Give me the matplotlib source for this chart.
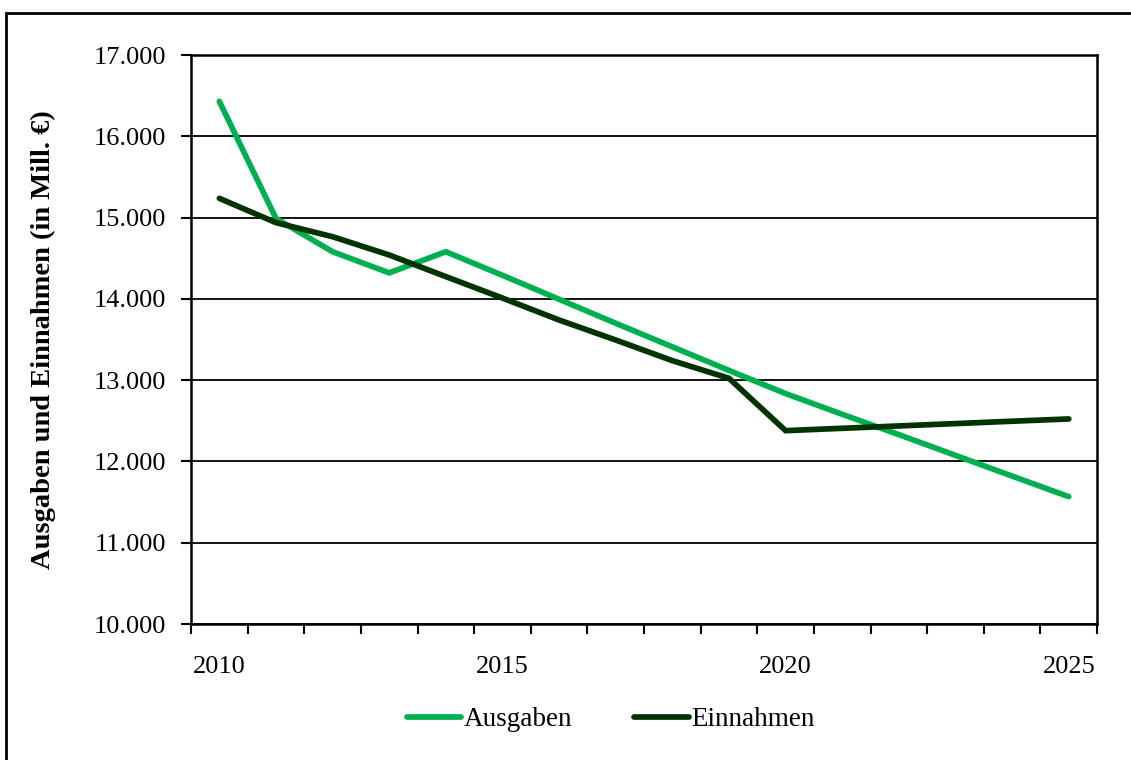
import matplotlib
matplotlib.use('Agg')
import matplotlib.pyplot as plt
from matplotlib.patches import Rectangle
from matplotlib.ticker import FuncFormatter, FixedLocator

# Jahre (Kategorien) und Werte in Mill. Euro
jahre = [2010, 2011, 2012, 2013, 2014, 2015, 2016, 2017,
         2018, 2019, 2020, 2021, 2022, 2023, 2024, 2025]
ausgaben = [16430, 14990, 14580, 14320, 14580, 14290, 13995, 13700,
            13410, 13120, 12835, 12580, 12330, 12075, 11820, 11567]
einnahmen = [15237, 14938, 14765, 14540, 14274, 14010, 13740, 13494,
             13240, 13023, 12379, 12408, 12437, 12466, 12495, 12523]
beschriftete_jahre = [2010, 2015, 2020, 2025]

plt.rcParams['font.family'] = ['Liberation Serif', 'DejaVu Serif']

fig = plt.figure(figsize=(11.31, 7.6), dpi=100)
ax = fig.add_axes([0.1689, 0.1789, 0.8011, 0.7487])

x = list(range(len(jahre)))
ax.plot(x, ausgaben, color='#00B050', lw=4.1, solid_capstyle='round',
        solid_joinstyle='miter', label='Ausgaben', zorder=3)
ax.plot(x, einnahmen, color='#003300', lw=4.1, solid_capstyle='round',
        solid_joinstyle='miter', label='Einnahmen', zorder=3)

ax.set_xlim(-0.5, len(jahre) - 0.5)
ax.set_ylim(10000, 17000)
ax.set_yticks(range(10000, 17001, 1000))
ax.yaxis.set_major_formatter(FuncFormatter(lambda v, p: f'{int(v):,}'.replace(',', '.')))
ax.grid(axis='y', color='black', lw=1.3, zorder=1)

# Kategorie-Achse: Striche zwischen den Jahren, Beschriftung alle 5 Jahre
ax.xaxis.set_major_locator(FixedLocator([jahre.index(j) for j in beschriftete_jahre]))
ax.set_xticklabels([str(j) for j in beschriftete_jahre])
ax.xaxis.set_minor_locator(FixedLocator([i - 0.5 for i in range(len(jahre) + 1)]))
ax.tick_params(axis='x', which='major', length=0, pad=23, labelsize=19)
ax.tick_params(axis='x', which='minor', length=7, width=1.5, direction='out')
ax.tick_params(axis='y', length=7, width=1.5, direction='out', pad=11, labelsize=19)

for s in ax.spines.values():
    s.set_linewidth(1.8)
    s.set_color('black')

ax.set_ylabel('Ausgaben und Einnahmen (in Mill. €)', fontsize=20.5,
              fontweight='bold')
ax.yaxis.set_label_coords(-0.149, 0.5)

fig.legend(loc='center', bbox_to_anchor=(0.54, 0.053), ncol=2, frameon=False,
           fontsize=19.5, handlelength=2.0, handletextpad=0.1, columnspacing=2.3)

fig.patches.append(Rectangle((6 / 1131, -0.1), 1.2, 1 - 13 / 760 + 0.1,
                             transform=fig.transFigure, fill=False,
                             edgecolor='black', lw=2))

fig.savefig('out.png', dpi=100)
